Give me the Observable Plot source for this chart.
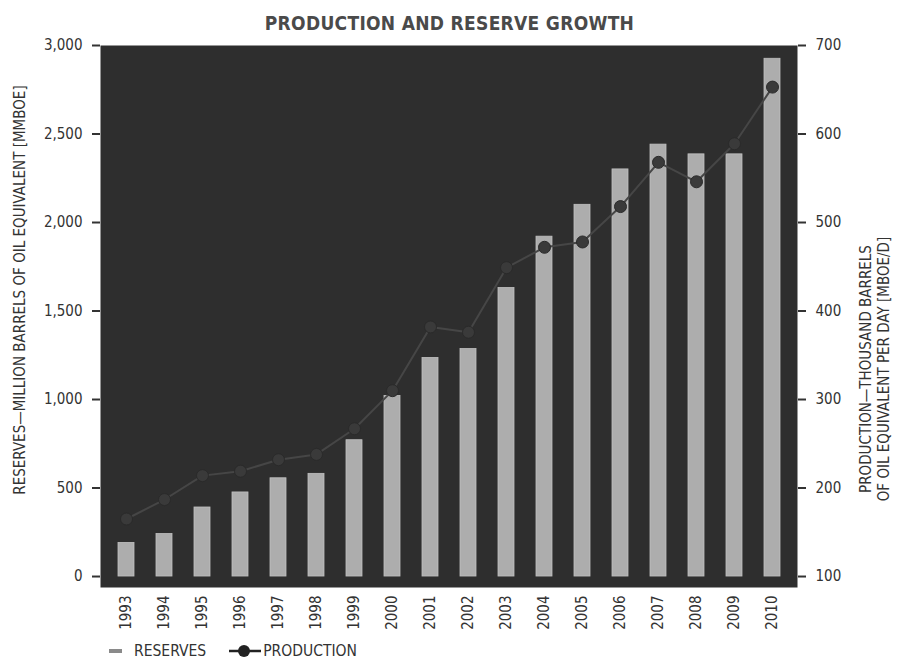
<!DOCTYPE html>
<html><head><meta charset="utf-8">
<script src="https://cdn.jsdelivr.net/npm/d3@7"></script>
<script src="https://cdn.jsdelivr.net/npm/@observablehq/plot@0.6"></script>
<style>
body{margin:0;background:#fff;font-family:"Liberation Sans Narrow","DejaVu Sans Condensed","DejaVu Sans",sans-serif;color:#333;}
#wrap{position:relative;width:899px;height:660px;overflow:hidden;}
#title{position:absolute;left:0;top:12px;width:899px;text-align:center;font-weight:bold;font-size:19px;color:#4a4a4a;letter-spacing:0.3px;}
#chart{position:absolute;left:0;top:36px;}
#legend{position:absolute;left:108px;top:643px;height:16px;line-height:16px;font-size:15.5px;color:#333;display:flex;align-items:center;}
#legend .item{display:flex;align-items:center;margin-right:22px;height:16px;}
#legend svg{display:block;}
</style></head><body>
<div id="wrap">
<div id="title">PRODUCTION AND RESERVE GROWTH</div>
<div id="chart"></div>
<div id="legend">
  <div class="item"><svg width="16" height="10"><line x1="1" x2="14" y1="5" y2="5" stroke="#8a8a8a" stroke-width="4"/></svg><span style="margin-left:10px">RESERVES</span></div>
  <div class="item"><svg width="34" height="14"><line x1="1" x2="33" y1="7" y2="7" stroke="#222" stroke-width="2.5"/><circle cx="16" cy="7" r="6" fill="#222"/></svg><span style="margin-left:1px">PRODUCTION</span></div>
</div>
</div>
<script>
const years = ["1993","1994","1995","1996","1997","1998","1999","2000","2001","2002","2003","2004","2005","2006","2007","2008","2009","2010"];
const reserves = [190, 240, 390, 475, 555, 580, 770, 1020, 1235, 1285, 1630, 1920, 2100, 2300, 2440, 2385, 2385, 2925];
const production = [165, 187, 214, 219, 232, 238, 267, 310, 382, 376, 449, 472, 478, 518, 568, 546, 589, 653];
const leftTicks = [0, 500, 1000, 1500, 2000, 2500, 3000];
const rightTicks = [100, 200, 300, 400, 500, 600, 700];
const leftLabel = "RESERVES—MILLION BARRELS OF OIL EQUIVALENT [MMBOE]";
const rightLabel1 = "PRODUCTION—THOUSAND BARRELS";
const rightLabel2 = "OF OIL EQUIVALENT PER DAY [MBOE/D]";

// right axis (production) mapped onto the reserves scale: 100 -> 0, 700 -> 3000
const toLeft = p => (p - 100) * 5;
const fromLeft = v => v / 5 + 100;

const data = years.map((y, i) => ({year: y, reserves: reserves[i], production: production[i]}));

const W = 899, H = 605;
const chart = Plot.plot({
  width: W, height: H,
  marginLeft: 100, marginRight: 102, marginTop: 9, marginBottom: 54,
  style: {fontFamily: '"Liberation Sans Narrow","DejaVu Sans Condensed","DejaVu Sans",sans-serif', fontSize: "15px", color: "#333", background: "transparent"},
  x: {domain: years, paddingInner: 0.58, paddingOuter: 0.3, label: null},
  y: {domain: [-62, 3000], label: null},
  marks: [
    Plot.frame({fill: "#2e2e2e", stroke: null}),
    Plot.barY(data, {x: "year", y: "reserves", fill: "#adadad", stroke: "#c0c0c0", strokeWidth: 0.8}),
    Plot.lineY(data, {x: "year", y: d => toLeft(d.production), stroke: "#464646", strokeWidth: 2}),
    Plot.dot(data, {x: "year", y: d => toLeft(d.production), r: 6, fill: "#3a3a3a", stroke: "#2a2a2a", strokeWidth: 1}),
    Plot.axisY(leftTicks, {anchor: "left", tickFormat: d3.format(","), tickSize: 8, tickPadding: 10, stroke: "#333", strokeWidth: 2, label: null}),
    Plot.axisY(rightTicks.map(toLeft), {anchor: "right", tickFormat: d => String(fromLeft(d)), tickSize: 8, tickPadding: 10, stroke: "#333", strokeWidth: 2, label: null}),
    Plot.axisX({tickRotate: -90, tickSize: 0, tickPadding: 8, label: null})
  ]
});
document.getElementById("chart").appendChild(chart);

const svg = d3.select(chart);
const font = '"Liberation Sans Narrow","DejaVu Sans Condensed","DejaVu Sans",sans-serif';
svg.append("text")
  .attr("transform", `translate(25,${290 - 36}) rotate(-90)`)
  .attr("text-anchor", "middle").attr("font-size", 15).attr("fill", "#333").attr("font-family", font)
  .text(leftLabel);
svg.append("text")
  .attr("transform", `translate(871,${369 - 36}) rotate(-90)`)
  .attr("text-anchor", "middle").attr("font-size", 15).attr("fill", "#333").attr("font-family", font)
  .text(rightLabel1);
svg.append("text")
  .attr("transform", `translate(889,${369 - 36}) rotate(-90)`)
  .attr("text-anchor", "middle").attr("font-size", 15).attr("fill", "#333").attr("font-family", font)
  .text(rightLabel2);
</script>
</body></html>
